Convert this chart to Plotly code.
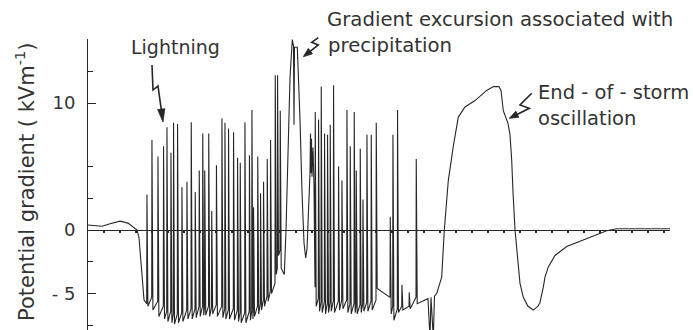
import plotly.graph_objects as go

W, H = 693, 330

# ---------------- data (time in arbitrary units, gradient in kV/m) ----------------
# fair-weather start and drop into the storm
pre_t = [0, 8, 14, 22, 32, 40, 45, 49, 51, 53, 54.5, 56]
pre_v = [0.4, 0.35, 0.3, 0.5, 0.7, 0.55, 0.25, 0.0, -0.6, -2.4, -4.3, -5.5]

# first lightning cluster: spike time, value before the flash, peak, value after recovery dip
c1_t = [58.7, 63.7, 69.7, 75.3, 78.7, 82.7, 85.3, 89.3, 93.7, 98.7, 103, 107, 111, 114.5,
        116.5, 120.5, 123.5, 128.2, 133.7, 136.7, 140.3, 145.3, 149.3, 152, 156.7, 161.2,
        163.7, 165.3, 169.5, 172.3, 175.3, 179, 182.3, 187, 189.3, 192]
c1_pre = [-5.8, -5.3, -5.6, -6.0, -6.4, -6.4, -6.6, -6.6, -6.5, -6.3, -6.2, -6.2, -6.0, -6.0,
          -6.1, -6.0, -6.1, -5.9, -6.0, -6.2, -6.3, -6.2, -6.3, -6.5, -6.5, -6.4, -6.4, -6.3,
          -6.0, -5.8, -5.5, -5.2, -4.8, -4.2, -3.0, -1.6]
c1_top = [2.8, 7.1, 5.8, 6.6, 8.1, 6.1, 8.45, 8.35, 3.4, 3.8, 8.5, 3.0, 4.7, 7.6, 4.7, 7.6,
          1.5, 5.1, 8.8, 8.45, 8.0, 7.7, 5.7, 5.3, 8.5, 5.9, 9.45, 1.8, 5.8, 2.9, 3.8, 5.6,
          7.1, 12.2, 12.2, 9.4]
c1_low = [-6.0, -6.3, -6.8, -7.0, -7.2, -7.3, -7.4, -7.3, -7.2, -7.0, -7.0, -6.9, -6.8, -6.7,
          -6.7, -6.8, -6.6, -6.8, -6.9, -7.0, -7.0, -7.1, -7.2, -7.3, -7.3, -7.1, -7.0, -6.8,
          -6.6, -6.3, -6.0, -5.6, -5.0, -3.5, -2.0, -3.0]

# gradient excursion associated with precipitation
exc_t = [196.3, 198, 200, 202, 204.3, 205.5, 206, 206.5, 209.3, 210.5, 212, 214, 216, 217.7,
         219, 221, 222, 222.5, 223, 223.5, 224, 225, 226]
exc_v = [-3.5, 0, 6, 12, 15.0, 14.5, 8.3, 14.4, 14.4, 12, 8.7, 3, -1, -2.2,
         -1.5, 2.5, 4.5, 7.6, 4.5, 7.2, 4.2, 6.5, 3.5]

# second lightning cluster
c2_t = [227, 230.3, 233, 236.3, 239.3, 242, 245.3, 250.3, 253.7, 258.7, 262, 266, 268, 272,
        274.7, 278.7, 283, 288, 302, 304.7, 309.3, 313.7, 321, 328]
c2_pre = [-4.5, -5.4, -5.7, -5.7, -5.8, -5.7, -5.6, -5.6, -5.5, -5.5, -5.8, -5.8, -6.0, -5.9,
          -5.8, -5.7, -5.6, -5.5, -5.3, -6.0, -6.2, -6.0, -6.0, -5.3]
c2_top = [9.3, 8.7, 11.3, 7.6, 7.5, 8.3, 11.4, 5.0, 3.9, 9.45, 6.6, 9.3, 4.7, 6.4,
          2.4, 7.5, 7.5, 8.45, 1.05, 7.5, 9.45, -4.3, -4.9, 5.6]
c2_low = [-6.0, -6.4, -6.5, -6.6, -6.5, -6.4, -6.5, -6.3, -6.2, -6.5, -6.6, -6.5, -6.6, -6.5,
          -6.4, -6.4, -6.3, -4.6, -6.6, -7.1, -6.5, -6.3, -6.2, -5.8]

# end-of-storm oscillation and return to fair weather
post_t = [337, 340, 342, 343, 345.3, 346.5, 348.7, 353.7, 356.3, 360.3, 365.3, 370.3, 377, 387,
          398.7, 405.3, 411, 413, 415.3, 420, 422, 423.7, 425, 427, 432, 435.3, 440, 445.3,
          450, 452, 455.3, 457, 460.3, 467, 478.7, 495.3, 508.7, 518.7, 528.7, 550, 582]
post_v = [-5.5, -5.4, -8.5, -5.3, -8.5, -5.2, -5.0, -3.7, 0, 3.9, 6.6, 8.9, 9.7, 10.2,
          11.0, 11.3, 11.3, 11.0, 9.4, 8.4, 7.5, 5.5, 3, 0, -4.2, -5.3, -6.0, -6.3,
          -6.0, -5.7, -4.5, -3.7, -2.9, -2.0, -1.3, -0.8, -0.4, -0.05, 0.1, 0.1, 0.1]

time_marks = list(range(16, 577, 16))
ytick_vals = [-5, 0, 10]
ytick_text = ["- 5", "0", "10"]
yminor_vals = [-7.5, -2.5, 2.5, 5, 12.5, 15]

# ---------------- build the trace ----------------
RISE, FALL = 0.25, 1.2
xs, ys = list(pre_t), list(pre_v)


def add_spikes(ts, pres, tops, lows):
    for t, p, top, lo in zip(ts, pres, tops, lows):
        xs.extend([t, t + RISE, t + FALL])
        ys.extend([p, top, lo])


add_spikes(c1_t, c1_pre, c1_top, c1_low)
xs.extend(exc_t); ys.extend(exc_v)
add_spikes(c2_t, c2_pre, c2_top, c2_low)
xs.extend(post_t); ys.extend(post_v)

INK = "#262626"
TXT = "#333333"
FONT = "DejaVu Sans"

fig = go.Figure()
fig.add_trace(go.Scatter(x=xs, y=ys, mode="lines",
                         line=dict(color=INK, width=1.1), hoverinfo="skip",
                         showlegend=False))


def P(x, y):
    return x / W, 1 - y / H


def pstr(x, y):
    a, b = P(x, y)
    return f"{a:.5f},{b:.5f}"


def squiggle_arrow(pts, head_len, head_half):
    (x1, y1), (x2, y2) = pts[-2], pts[-1]
    dx, dy = x2 - x1, y2 - y1
    n = (dx * dx + dy * dy) ** 0.5
    ux, uy = dx / n, dy / n
    bx, by = x2 - head_len * ux, y2 - head_len * uy
    px_, py_ = -uy * head_half, ux * head_half
    line_pts = pts[:-1] + [(bx + ux * 1.5, by + uy * 1.5)]
    path = "M " + " L ".join(pstr(*p) for p in line_pts)
    head = ("M " + pstr(x2, y2) + " L " + pstr(bx + px_, by + py_) +
            " L " + pstr(bx - px_, by - py_) + " Z")
    return [
        dict(type="path", xref="paper", yref="paper", path=path,
             line=dict(color=INK, width=1.6)),
        dict(type="path", xref="paper", yref="paper", path=head,
             line=dict(color=INK, width=0.8), fillcolor=INK),
    ]


shapes = []
shapes += squiggle_arrow([(152, 65), (153, 90), (158, 86), (163, 122)], 13, 3.6)
shapes += squiggle_arrow([(318.3, 37.7), (311.7, 42.3), (318.3, 45), (303.3, 56.7)], 9, 3.4)
shapes += squiggle_arrow([(531.7, 93.3), (520, 105), (529.3, 108.3), (509.3, 118.3)], 9, 3.4)

ann = []


def label(text, x, y, size=19, xanchor="left", angle=0):
    a, b = P(x, y)
    ann.append(dict(text=text, x=a, y=b, xref="paper", yref="paper", showarrow=False,
                    xanchor=xanchor, yanchor="middle", textangle=angle,
                    font=dict(family=FONT, size=size, color=TXT)))


label("Lightning", 129, 47, size=19)
label("Gradient excursion associated with", 325, 20, size=19.7)
label("precipitation", 326, 45, size=19.7)
label("End - of - storm", 536, 93, size=19.5)
label("oscillation", 536, 118, size=19.5)
label("Potential gradient ( kVm<sup>-1</sup>)", 25, 182, size=21, xanchor="center", angle=-90)

x0, x1 = 88, 670
fig.update_layout(
    width=W, height=H,
    margin=dict(l=0, r=0, t=0, b=0),
    paper_bgcolor="white", plot_bgcolor="white",
    shapes=shapes, annotations=ann,
    xaxis=dict(domain=[x0 / W, x1 / W], range=[0, 582], anchor="free",
               position=(330 - 230) / H,
               showline=True, linecolor=INK, linewidth=1.4,
               tickmode="array", tickvals=time_marks, ticks="outside", ticklen=2,
               tickwidth=2.4, tickcolor=INK, showticklabels=False,
               showgrid=False, zeroline=False),
    yaxis=dict(domain=[0, (330 - 39) / H], range=[-7.87, 15.05], anchor="x",
               showline=True, linecolor=INK, linewidth=1,
               tickmode="array", tickvals=ytick_vals, ticktext=ytick_text,
               ticks="inside", ticklen=8, tickwidth=1, tickcolor=INK,
               tickfont=dict(family=FONT, size=18, color=TXT),
               ticklabelstandoff=8,
               minor=dict(tickmode="array", tickvals=yminor_vals, ticks="inside",
                          ticklen=5, tickwidth=1, tickcolor=INK),
               showgrid=False, zeroline=False),
)

fig.write_html("out.html")
